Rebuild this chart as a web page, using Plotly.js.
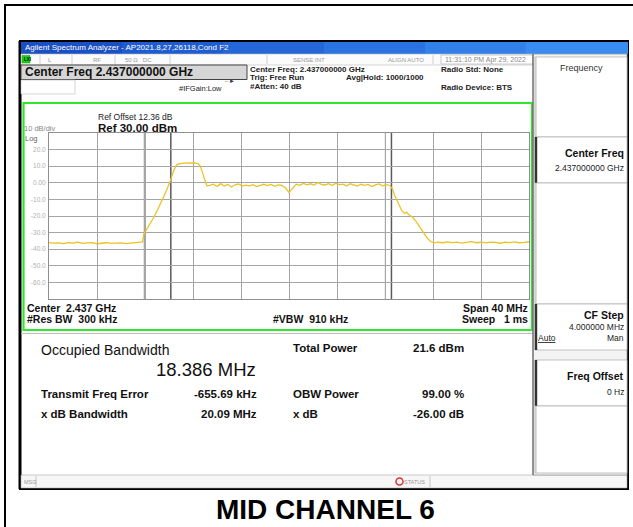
<!DOCTYPE html>
<html><head><meta charset="utf-8">
<script src="https://cdn.plot.ly/plotly-3.0.1.min.js"></script>
<style>html,body{margin:0;padding:0;background:#fff;}#chart{width:633px;height:527px;}</style>
</head><body><div id="chart"></div>
<script>
// ---- data ----
const centerGHz = 2.437;
const spanMHz = 40;
const refLevelDbm = 30;
const dbPerDiv = 10;
const freqOffsetMHz = [
 -20,-19.6,-19.2,-18.8,-18.4,-18.0,-17.6,-17.2,-16.8,-16.4,-16.0,-15.6,-15.2,-14.8,-14.4,-14.0,-13.6,-13.2,-12.8,-12.4,
 -12.2,-12.1,-11.7,-11.3,-10.9,-10.5,-10.2,-9.9,-9.6,-9.35,-9.1,-8.8,-8.5,-8.2,-7.9,-7.6,-7.4,-7.2,-7.0,-6.85,
 -6.6,-6.3,-6.0,-5.7,-5.4,-5.1,-4.8,-4.5,-4.2,-3.9,-3.6,-3.3,-3.0,-2.7,-2.4,-2.1,-1.8,-1.5,-1.2,-0.9,-0.6,-0.3,
 0.0,0.3,0.6,0.9,1.2,1.5,1.8,2.1,2.4,2.7,3.0,3.3,3.6,3.9,4.2,4.5,4.8,5.1,5.4,5.7,6.0,6.3,6.6,6.9,7.2,7.5,7.8,8.1,8.4,
 8.6,8.8,9.0,9.2,9.4,9.6,9.8,10.0,10.3,10.6,10.9,11.2,11.5,11.8,12.1,
 12.4,12.8,13.2,13.6,14.0,14.4,14.8,15.2,15.6,16.0,16.4,16.8,17.2,17.6,18.0,18.4,18.8,19.2,19.6,20.0
];
const powerDbm = [
 -36.0,-36.4,-36.2,-36.6,-36.1,-36.3,-35.8,-36.5,-36.2,-36.0,-36.7,-36.3,-36.1,-36.5,-36.4,-36.2,-36.6,-36.3,-35.9,-36.0,
 -35.6,-31.0,-26.5,-21.2,-15.5,-9.5,-4.5,1.0,7.5,11.0,11.6,11.8,11.9,12.1,12.0,11.5,10.2,6.0,1.5,-1.8,
 -1.5,-0.8,-2.2,-0.5,-1.9,-1.0,-2.5,-1.2,-0.7,-2.0,-1.4,-1.8,-1.1,-2.3,-1.5,-0.9,-1.7,-1.0,-2.1,-1.3,-1.6,-3.0,
 -5.8,-3.2,-0.8,-1.5,-0.4,-1.2,-0.6,-1.4,0.2,-0.9,-1.3,-0.5,-1.6,-0.3,-1.1,-0.8,-1.9,-0.6,-1.2,-2.0,-0.9,-1.5,-1.0,-2.2,-1.3,-0.7,-1.8,-1.1,-1.6,
 -3.5,-7.5,-10.5,-13.0,-16.8,-18.4,-17.8,-19.2,-20.8,-23.4,-26.5,-30.0,-33.2,-35.4,-36.2,
 -35.8,-36.1,-35.6,-36.0,-35.7,-36.3,-35.9,-35.5,-36.1,-35.8,-36.2,-35.7,-35.9,-36.4,-35.8,-36.0,-35.6,-36.1,-35.9,-35.5
];
const obwMHz = 18.386;
const freqErrorMHz = -0.65569;
const xdbEdgesMHz = [-12.06, 8.03];
const yTickVals = [20,10,0,-10,-20,-30,-40,-50,-60];
const yTickText = ['20.0','10.0','0.00','-10.0','-20.0','-30.0','-40.0','-50.0','-60.0'];

// ---- layout helpers (pixel -> paper) ----
const PL=49, PT=133, PW=480, PH=166;
const X = px => (px-PL)/PW;
const Y = py => 1-(py-PT)/PH;
const shapes=[], ann=[];
const FF='Liberation Sans, Arial, sans-serif';
function rect(x0,y0,x1,y1,fill,lc,lw,layer){shapes.push({type:'rect',xref:'paper',yref:'paper',x0:X(x0),x1:X(x1),y0:Y(y1),y1:Y(y0),fillcolor:fill||'rgba(0,0,0,0)',line:{color:lc||'rgba(0,0,0,0)',width:lw||0},layer:layer||'below'});}
function line(x0,y0,x1,y1,c,w,layer){shapes.push({type:'line',xref:'paper',yref:'paper',x0:X(x0),x1:X(x1),y0:Y(y0),y1:Y(y1),line:{color:c,width:w||1},layer:layer||'below'});}
function txt(x,y,t,size,o){o=o||{};ann.push({xref:'paper',yref:'paper',x:X(x),y:Y(y),text:o.bold?'<b>'+t+'</b>':t,showarrow:false,xanchor:o.anchor||'left',yanchor:'middle',borderpad:0,font:{family:o.family||FF,size:size,color:o.color||'#111'}});}

// outer frame
rect(5,5,700,600,null,'#000',2);
// screenshot body
rect(20,41,628,489,'#fff','#000',2);
line(20,41,20,489,'#000',3);
// blue title bar (strips for gradient)
const blues=['#1a50c4','#1f5ccf','#2567d9','#2b73e2','#3280ea','#398cf1'];
for(let i=0;i<blues.length;i++){rect(21+i*101,42,21+(i+1)*101+1,54,blues[i],null,0);}
txt(24,48,'Agilent Spectrum Analyzer - AP2021.8,27,26118,Cond F2',8,{color:'#fff'});
// status row
rect(21,54,533,65,'#fbfbfb','#bbb',0.6);
rect(22,55.5,30,63,'#18d018','#0a0',0.5);
txt(23,59.3,'LXI',4.5,{bold:true,color:'#000'});
[40,72,115,170,267,433].forEach(x=>line(x,55,x,64,'#c8c8c8',0.8));
txt(47,59.5,'L',6,{color:'#999'});
txt(92,59.5,'RF',6,{color:'#999'});
txt(124,59.5,'50 Ω\u00a0\u00a0\u00a0DC',6,{color:'#999'});
txt(292,59.5,'SENSE:INT',6,{color:'#999'});
txt(387,59.5,'ALIGN AUTO',6,{color:'#999'});
rect(441,55,533,64,'#fff','#aaa',0.6);
txt(485,59.5,'11:31:10 PM Apr 29, 2022',7,{color:'#888',anchor:'center'});
// center freq box
rect(21,65,247,79.5,'#d6d6d6','#444',1);
txt(24,72.3,'Center Freq 2.437000000 GHz',12,{bold:true});
rect(21,80,75,94,'#fff','#bbb',0.6);
txt(249,69.5,'Center Freq: 2.437000000 GHz',8,{bold:true,color:'#222'});
txt(249,78,'Trig: Free Run',8,{bold:true,color:'#222'});
txt(249,86.5,'#Atten: 40 dB',8,{bold:true,color:'#222'});
txt(345,78,'Avg|Hold: 1000/1000',8,{bold:true,color:'#222'});
txt(440,69.5,'Radio Std: None',8,{bold:true,color:'#222'});
txt(440,87,'Radio Device: BTS',8,{bold:true,color:'#222'});
txt(178,88,'#IFGain:Low',7.5,{color:'#222'});
txt(224,81,'-·►',6,{color:'#333'});
// chart panel with green frame
rect(23.5,103,532,330,'#fff','#2ee82e',2.2);
txt(97,116.5,'Ref Offset 12.36 dB',8.5,{color:'#222'});
txt(97,127.5,'Ref 30.00 dBm',11.5,{bold:true});
txt(23,128.5,'10 dB/div',7.5,{color:'#888'});
txt(24,138,'Log',7.5,{color:'#666'});
txt(26,307.5,'Center\u00a0\u00a02.437 GHz',10.5,{bold:true});
txt(26,319,'#Res BW\u00a0\u00a0300 kHz',10.5,{bold:true});
txt(310,319,'#VBW\u00a0\u00a0910 kHz',10.5,{bold:true,anchor:'center'});
txt(529,307.5,'Span 40 MHz',10.5,{bold:true,anchor:'right'});
txt(529,319,'Sweep\u00a0\u00a0\u00a01 ms',10.5,{bold:true,anchor:'right'});
// results panel
line(21,333.5,533,333.5,'#bdbdbd',1);
txt(40,349.5,'Occupied Bandwidth',14,{color:'#111'});
txt(257,369,'18.386 MHz',18.5,{anchor:'right',color:'#111'});
txt(292,347.5,'Total Power',11.5,{bold:true});
txt(465,347.5,'21.6 dBm',11.5,{bold:true,anchor:'right'});
txt(40,394,'Transmit Freq Error',11.5,{bold:true});
txt(258,394,'-655.69 kHz',11.5,{bold:true,anchor:'right'});
txt(292,394,'OBW Power',11.5,{bold:true});
txt(465,394,'99.00 %',11.5,{bold:true,anchor:'right'});
txt(40,414,'x dB Bandwidth',11.5,{bold:true});
txt(258,414,'20.09 MHz',11.5,{bold:true,anchor:'right'});
txt(292,414,'x dB',11.5,{bold:true});
txt(465,414,'-26.00 dB',11.5,{bold:true,anchor:'right'});
// msg bar
rect(21,475,627,488,'#f7f7f7','#aaa',0.6);
line(36,476,36,487,'#bbb',0.8);
txt(23,481.5,'MSG',5.5,{color:'#999'});
shapes.push({type:'circle',xref:'paper',yref:'paper',x0:X(396),x1:X(403),y0:Y(485),y1:Y(478),line:{color:'#d33',width:1.5},fillcolor:'rgba(0,0,0,0)',layer:'below'});
txt(403,481.5,'STATUS',5.5,{color:'#999'});
line(430,476,430,487,'#bbb',0.8);
// right panel
rect(533,54,627,475,'#f3f3f3','#999',0.8);
line(533,54,533,475,'#666',1.2);
function key(y0,y1,dark){rect(535,y0,627,y1,'#fff','#aaa',0.7); line(536,y0,536,y1,dark?'#333':'#bbb',dark?2.4:1);}
key(57,137,false);
key(137,183,true);
key(183,304,false);
key(304,350,true);
key(360,406,true);
key(406,473,false);
txt(581,68,'Frequency',9,{anchor:'center',color:'#333'});
txt(625,153,'Center Freq',10.5,{bold:true,anchor:'right'});
txt(625,168,'2.437000000 GHz',8.5,{anchor:'right',color:'#222'});
txt(625,315,'CF Step',10.5,{bold:true,anchor:'right'});
txt(625,326.5,'4.000000 MHz',8.5,{anchor:'right',color:'#222'});
txt(537,338,'<u>Auto</u>',8.5,{color:'#222'});
txt(625,338,'Man',8.5,{anchor:'right',color:'#222'});
txt(625,376,'Freq Offset',10.5,{bold:true,anchor:'right'});
txt(625,392,'0 Hz',8.5,{anchor:'right',color:'#222'});
// caption
txt(325,510,'MID CHANNEL 6',28,{bold:true,anchor:'center',color:'#000'});

// OBW and x dB markers from the measured values
const obwEdges=[freqErrorMHz-obwMHz/2, freqErrorMHz+obwMHz/2];
obwEdges.forEach(f=>shapes.push({type:'line',xref:'x',yref:'paper',x0:f,x1:f,y0:0,y1:1,line:{color:'#5a5a5a',width:1.5},layer:'between'}));
xdbEdgesMHz.forEach(f=>shapes.push({type:'line',xref:'x',yref:'paper',x0:f,x1:f,y0:0,y1:1,line:{color:'#8a8a8a',width:1},layer:'between'}));

const trace={x:freqOffsetMHz,y:powerDbm,type:'scatter',mode:'lines',line:{color:'#ebc226',width:1.3},hoverinfo:'skip'};
const layout={
  width:633,height:527,margin:{l:PL,t:PT,r:633-PL-PW,b:527-PT-PH},
  paper_bgcolor:'#fff',plot_bgcolor:'#fff',showlegend:false,
  xaxis:{range:[-spanMHz/2,spanMHz/2],dtick:spanMHz/10,tick0:0,showticklabels:false,ticks:'',showgrid:true,gridcolor:'#a5a5a5',gridwidth:1,zeroline:false,showline:true,mirror:true,linecolor:'#8f8f8f',linewidth:1,fixedrange:true},
  yaxis:{range:[refLevelDbm-10*dbPerDiv,refLevelDbm],tickvals:yTickVals,ticktext:yTickText,ticks:'',showgrid:true,gridcolor:'#a5a5a5',gridwidth:1,zeroline:false,showline:true,mirror:true,linecolor:'#8f8f8f',linewidth:1,tickfont:{family:FF,size:6.5,color:'#b0b0b0'},ticklabelstandoff:1,fixedrange:true},
  shapes:shapes,annotations:ann
};
Plotly.newPlot('chart',[trace],layout,{displayModeBar:false,staticPlot:true});
</script></body></html>
